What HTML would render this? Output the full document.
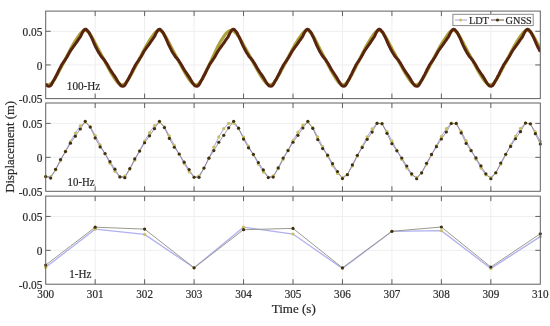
<!DOCTYPE html>
<html><head><meta charset="utf-8"><style>
html,body{margin:0;padding:0;background:#fff;width:550px;height:326px;overflow:hidden}
svg{display:block;will-change:transform;filter:blur(0.45px)}
</style></head><body>
<svg width="550" height="326" viewBox="0 0 550 326">
<defs><clipPath id="c0"><rect x="45.7" y="11.1" width="494.6000000000001" height="87.5"/></clipPath><clipPath id="c1"><rect x="45.7" y="103.0" width="494.6000000000001" height="88.30000000000001"/></clipPath><clipPath id="c2"><rect x="45.7" y="196.1" width="494.6000000000001" height="88.1"/></clipPath></defs>
<rect width="550" height="326" fill="#fff"/>
<line x1="95.16" y1="11.1" x2="95.16" y2="98.6" stroke="#eeeeee" stroke-width="1"/>
<line x1="144.62" y1="11.1" x2="144.62" y2="98.6" stroke="#eeeeee" stroke-width="1"/>
<line x1="194.07999999999998" y1="11.1" x2="194.07999999999998" y2="98.6" stroke="#eeeeee" stroke-width="1"/>
<line x1="243.54000000000002" y1="11.1" x2="243.54000000000002" y2="98.6" stroke="#eeeeee" stroke-width="1"/>
<line x1="293.0" y1="11.1" x2="293.0" y2="98.6" stroke="#eeeeee" stroke-width="1"/>
<line x1="342.46" y1="11.1" x2="342.46" y2="98.6" stroke="#eeeeee" stroke-width="1"/>
<line x1="391.92" y1="11.1" x2="391.92" y2="98.6" stroke="#eeeeee" stroke-width="1"/>
<line x1="441.38" y1="11.1" x2="441.38" y2="98.6" stroke="#eeeeee" stroke-width="1"/>
<line x1="490.84" y1="11.1" x2="490.84" y2="98.6" stroke="#eeeeee" stroke-width="1"/>
<line x1="45.7" y1="64.95" x2="540.3000000000001" y2="64.95" stroke="#eeeeee" stroke-width="1"/>
<line x1="45.7" y1="31.29" x2="540.3000000000001" y2="31.29" stroke="#eeeeee" stroke-width="1"/>
<line x1="95.16" y1="103.0" x2="95.16" y2="191.3" stroke="#eeeeee" stroke-width="1"/>
<line x1="144.62" y1="103.0" x2="144.62" y2="191.3" stroke="#eeeeee" stroke-width="1"/>
<line x1="194.07999999999998" y1="103.0" x2="194.07999999999998" y2="191.3" stroke="#eeeeee" stroke-width="1"/>
<line x1="243.54000000000002" y1="103.0" x2="243.54000000000002" y2="191.3" stroke="#eeeeee" stroke-width="1"/>
<line x1="293.0" y1="103.0" x2="293.0" y2="191.3" stroke="#eeeeee" stroke-width="1"/>
<line x1="342.46" y1="103.0" x2="342.46" y2="191.3" stroke="#eeeeee" stroke-width="1"/>
<line x1="391.92" y1="103.0" x2="391.92" y2="191.3" stroke="#eeeeee" stroke-width="1"/>
<line x1="441.38" y1="103.0" x2="441.38" y2="191.3" stroke="#eeeeee" stroke-width="1"/>
<line x1="490.84" y1="103.0" x2="490.84" y2="191.3" stroke="#eeeeee" stroke-width="1"/>
<line x1="45.7" y1="157.34" x2="540.3000000000001" y2="157.34" stroke="#eeeeee" stroke-width="1"/>
<line x1="45.7" y1="123.38" x2="540.3000000000001" y2="123.38" stroke="#eeeeee" stroke-width="1"/>
<line x1="95.16" y1="196.1" x2="95.16" y2="284.2" stroke="#eeeeee" stroke-width="1"/>
<line x1="144.62" y1="196.1" x2="144.62" y2="284.2" stroke="#eeeeee" stroke-width="1"/>
<line x1="194.07999999999998" y1="196.1" x2="194.07999999999998" y2="284.2" stroke="#eeeeee" stroke-width="1"/>
<line x1="243.54000000000002" y1="196.1" x2="243.54000000000002" y2="284.2" stroke="#eeeeee" stroke-width="1"/>
<line x1="293.0" y1="196.1" x2="293.0" y2="284.2" stroke="#eeeeee" stroke-width="1"/>
<line x1="342.46" y1="196.1" x2="342.46" y2="284.2" stroke="#eeeeee" stroke-width="1"/>
<line x1="391.92" y1="196.1" x2="391.92" y2="284.2" stroke="#eeeeee" stroke-width="1"/>
<line x1="441.38" y1="196.1" x2="441.38" y2="284.2" stroke="#eeeeee" stroke-width="1"/>
<line x1="490.84" y1="196.1" x2="490.84" y2="284.2" stroke="#eeeeee" stroke-width="1"/>
<line x1="45.7" y1="250.32" x2="540.3000000000001" y2="250.32" stroke="#eeeeee" stroke-width="1"/>
<line x1="45.7" y1="216.43" x2="540.3000000000001" y2="216.43" stroke="#eeeeee" stroke-width="1"/>
<g clip-path="url(#c0)">
<path d="M45.70,84.01 L46.19,84.34 L46.69,84.58 L47.18,84.76 L47.68,84.86 L48.17,84.88 L48.67,84.83 L49.16,84.71 L49.66,84.51 L50.15,84.25 L50.65,83.92 L51.14,83.51 L51.64,83.04 L52.13,82.52 L52.62,81.95 L53.12,81.32 L53.61,80.64 L54.11,79.91 L54.60,79.14 L55.10,78.33 L55.59,77.50 L56.09,76.66 L56.58,75.78 L57.08,74.90 L57.57,74.00 L58.07,73.10 L58.56,72.17 L59.05,71.24 L59.55,70.31 L60.04,69.38 L60.54,68.44 L61.03,67.49 L61.53,66.54 L62.02,65.59 L62.52,64.64 L63.01,63.69 L63.51,62.73 L64.00,61.77 L64.49,60.81 L64.99,59.83 L65.48,58.88 L65.98,57.91 L66.47,56.95 L66.97,55.99 L67.46,55.03 L67.96,54.07 L68.45,53.12 L68.95,52.16 L69.44,51.21 L69.94,50.28 L70.43,49.35 L70.92,48.44 L71.42,47.53 L71.91,46.64 L72.41,45.76 L72.90,44.90 L73.40,44.05 L73.89,43.22 L74.39,42.41 L74.88,41.62 L75.38,40.84 L75.87,40.08 L76.37,39.32 L76.86,38.57 L77.35,37.82 L77.85,37.08 L78.34,36.35 L78.84,35.65 L79.33,34.96 L79.83,34.30 L80.32,33.67 L80.82,33.09 L81.31,32.54 L81.81,32.06 L82.30,31.62 L82.80,31.26 L83.29,30.95 L83.78,30.71 L84.28,30.52 L84.77,30.42 L85.27,30.39 L85.76,30.46 L86.26,30.59 L86.75,30.82 L87.25,31.12 L87.74,31.51 L88.24,31.97 L88.73,32.50 L89.22,33.10 L89.72,33.76 L90.21,34.46 L90.71,35.21 L91.20,35.99 L91.70,36.81 L92.19,37.65 L92.69,38.53 L93.18,39.42 L93.68,40.34 L94.17,41.27 L94.67,42.21 L95.16,43.15 L95.65,44.10 L96.15,45.07 L96.64,46.02 L97.14,46.98 L97.63,47.92 L98.13,48.86 L98.62,49.79 L99.12,50.71 L99.61,51.62 L100.11,52.54 L100.60,53.46 L101.10,54.37 L101.59,55.28 L102.08,56.20 L102.58,57.10 L103.07,58.02 L103.57,58.93 L104.06,59.86 L104.56,60.78 L105.05,61.70 L105.55,62.62 L106.04,63.54 L106.54,64.47 L107.03,65.39 L107.53,66.31 L108.02,67.23 L108.51,68.15 L109.01,69.06 L109.50,69.95 L110.00,70.83 L110.49,71.70 L110.99,72.56 L111.48,73.41 L111.98,74.24 L112.47,75.06 L112.97,75.86 L113.46,76.64 L113.95,77.40 L114.45,78.15 L114.94,78.87 L115.44,79.56 L115.93,80.24 L116.43,80.89 L116.92,81.51 L117.42,82.08 L117.91,82.61 L118.41,83.10 L118.90,83.55 L119.40,83.94 L119.89,84.27 L120.38,84.54 L120.88,84.73 L121.37,84.85 L121.87,84.89 L122.36,84.86 L122.86,84.75 L123.35,84.58 L123.85,84.34 L124.34,84.03 L124.84,83.64 L125.33,83.19 L125.83,82.69 L126.32,82.13 L126.81,81.52 L127.31,80.85 L127.80,80.15 L128.30,79.39 L128.79,78.60 L129.29,77.78 L129.78,76.94 L130.28,76.08 L130.77,75.20 L131.27,74.32 L131.76,73.42 L132.25,72.50 L132.75,71.58 L133.24,70.65 L133.74,69.73 L134.23,68.80 L134.73,67.85 L135.22,66.91 L135.72,65.96 L136.21,65.02 L136.71,64.07 L137.20,63.12 L137.70,62.17 L138.19,61.21 L138.68,60.24 L139.18,59.28 L139.67,58.33 L140.17,57.37 L140.66,56.41 L141.16,55.45 L141.65,54.50 L142.15,53.55 L142.64,52.60 L143.14,51.65 L143.63,50.72 L144.13,49.79 L144.62,48.87 L145.11,47.96 L145.61,47.07 L146.10,46.19 L146.60,45.32 L147.09,44.47 L147.59,43.64 L148.08,42.83 L148.58,42.03 L149.07,41.24 L149.57,40.48 L150.06,39.73 L150.56,38.97 L151.05,38.23 L151.54,37.48 L152.04,36.76 L152.53,36.04 L153.03,35.35 L153.52,34.67 L154.02,34.03 L154.51,33.41 L155.01,32.85 L155.50,32.33 L156.00,31.87 L156.49,31.46 L156.99,31.13 L157.48,30.84 L157.97,30.63 L158.47,30.46 L158.96,30.39 L159.46,30.40 L159.95,30.51 L160.45,30.67 L160.94,30.94 L161.44,31.27 L161.93,31.69 L162.43,32.18 L162.92,32.75 L163.41,33.36 L163.91,34.05 L164.40,34.77 L164.90,35.54 L165.39,36.33 L165.89,37.16 L166.38,38.02 L166.88,38.91 L167.37,39.82 L167.87,40.75 L168.36,41.68 L168.86,42.62 L169.35,43.57 L169.84,44.52 L170.34,45.50 L170.83,46.45 L171.33,47.41 L171.82,48.34 L172.32,49.29 L172.81,50.21 L173.31,51.14 L173.80,52.04 L174.30,52.97 L174.79,53.89 L175.29,54.81 L175.78,55.72 L176.27,56.63 L176.77,57.54 L177.26,58.46 L177.76,59.38 L178.25,60.31 L178.75,61.24 L179.24,62.15 L179.74,63.08 L180.23,64.00 L180.73,64.94 L181.22,65.85 L181.72,66.79 L182.21,67.70 L182.70,68.62 L183.20,69.52 L183.69,70.41 L184.19,71.29 L184.68,72.16 L185.18,73.01 L185.67,73.86 L186.17,74.68 L186.66,75.49 L187.16,76.29 L187.65,77.06 L188.14,77.82 L188.64,78.56 L189.13,79.27 L189.63,79.95 L190.12,80.63 L190.62,81.25 L191.11,81.86 L191.61,82.40 L192.10,82.92 L192.60,83.38 L193.09,83.80 L193.59,84.15 L194.08,84.45 L194.57,84.67 L195.07,84.82 L195.56,84.88 L196.06,84.87 L196.55,84.78 L197.05,84.62 L197.54,84.39 L198.04,84.09 L198.53,83.70 L199.03,83.24 L199.52,82.73 L200.02,82.15 L200.51,81.52 L201.00,80.82 L201.50,80.08 L201.99,79.27 L202.49,78.43 L202.98,77.56 L203.48,76.67 L203.97,75.74 L204.47,74.79 L204.96,73.83 L205.46,72.85 L205.95,71.85 L206.44,70.83 L206.94,69.82 L207.43,68.81 L207.93,67.76 L208.42,66.71 L208.92,65.66 L209.41,64.61 L209.91,63.55 L210.40,62.48 L210.90,61.40 L211.39,60.32 L211.89,59.23 L212.38,58.15 L212.87,57.07 L213.37,55.98 L213.86,54.91 L214.36,53.82 L214.85,52.75 L215.35,51.68 L215.84,50.63 L216.34,49.59 L216.83,48.57 L217.33,47.57 L217.82,46.58 L218.32,45.62 L218.81,44.68 L219.30,43.77 L219.80,42.89 L220.29,42.03 L220.79,41.20 L221.28,40.39 L221.78,39.60 L222.27,38.82 L222.77,38.05 L223.26,37.30 L223.76,36.57 L224.25,35.86 L224.75,35.18 L225.24,34.53 L225.73,33.91 L226.23,33.33 L226.72,32.80 L227.22,32.32 L227.71,31.89 L228.21,31.51 L228.70,31.20 L229.20,30.92 L229.69,30.71 L230.19,30.53 L230.68,30.42 L231.18,30.38 L231.67,30.40 L232.16,30.51 L232.66,30.64 L233.15,30.87 L233.65,31.13 L234.14,31.46 L234.64,31.85 L235.13,32.30 L235.63,32.80 L236.12,33.34 L236.62,33.94 L237.11,34.55 L237.60,35.22 L238.10,35.90 L238.59,36.62 L239.09,37.36 L239.58,38.13 L240.08,38.93 L240.57,39.74 L241.07,40.58 L241.56,41.42 L242.06,42.28 L242.55,43.15 L243.05,44.02 L243.54,44.91 L244.03,45.81 L244.53,46.70 L245.02,47.59 L245.52,48.47 L246.01,49.36 L246.51,50.24 L247.00,51.12 L247.50,51.98 L247.99,52.87 L248.49,53.75 L248.98,54.64 L249.48,55.52 L249.97,56.40 L250.46,57.29 L250.96,58.18 L251.45,59.08 L251.95,59.98 L252.44,60.89 L252.94,61.79 L253.43,62.70 L253.93,63.60 L254.42,64.52 L254.92,65.43 L255.41,66.34 L255.91,67.25 L256.40,68.16 L256.89,69.06 L257.39,69.94 L257.88,70.82 L258.38,71.69 L258.87,72.54 L259.37,73.38 L259.86,74.21 L260.36,75.02 L260.85,75.82 L261.35,76.60 L261.84,77.36 L262.33,78.10 L262.83,78.82 L263.32,79.51 L263.82,80.19 L264.31,80.84 L264.81,81.46 L265.30,82.03 L265.80,82.57 L266.29,83.06 L266.79,83.50 L267.28,83.90 L267.78,84.24 L268.27,84.52 L268.76,84.72 L269.26,84.85 L269.75,84.90 L270.25,84.87 L270.74,84.78 L271.24,84.61 L271.73,84.38 L272.23,84.09 L272.72,83.71 L273.22,83.26 L273.71,82.78 L274.21,82.22 L274.70,81.63 L275.19,80.97 L275.69,80.28 L276.18,79.53 L276.68,78.75 L277.17,77.93 L277.67,77.11 L278.16,76.26 L278.66,75.38 L279.15,74.50 L279.65,73.61 L280.14,72.70 L280.63,71.78 L281.13,70.85 L281.62,69.93 L282.12,69.02 L282.61,68.08 L283.11,67.13 L283.60,66.19 L284.10,65.25 L284.59,64.31 L285.09,63.36 L285.58,62.41 L286.08,61.46 L286.57,60.50 L287.06,59.54 L287.56,58.59 L288.05,57.63 L288.55,56.69 L289.04,55.72 L289.54,54.78 L290.03,53.82 L290.53,52.88 L291.02,51.93 L291.52,51.00 L292.01,50.08 L292.51,49.16 L293.00,48.25 L293.49,47.36 L293.99,46.47 L294.48,45.61 L294.98,44.76 L295.47,43.92 L295.97,43.10 L296.46,42.30 L296.96,41.52 L297.45,40.75 L297.95,40.00 L298.44,39.24 L298.94,38.50 L299.43,37.76 L299.92,37.03 L300.42,36.31 L300.91,35.61 L301.41,34.93 L301.90,34.28 L302.40,33.65 L302.89,33.07 L303.39,32.53 L303.88,32.05 L304.38,31.62 L304.87,31.26 L305.37,30.95 L305.86,30.72 L306.35,30.53 L306.85,30.43 L307.34,30.41 L307.84,30.49 L308.33,30.64 L308.83,30.89 L309.32,31.20 L309.82,31.61 L310.31,32.09 L310.81,32.66 L311.30,33.27 L311.79,33.97 L312.29,34.69 L312.78,35.48 L313.28,36.29 L313.77,37.14 L314.27,38.02 L314.76,38.94 L315.26,39.86 L315.75,40.82 L316.25,41.78 L316.74,42.74 L317.24,43.72 L317.73,44.71 L318.22,45.70 L318.72,46.69 L319.21,47.66 L319.71,48.63 L320.20,49.60 L320.70,50.55 L321.19,51.49 L321.69,52.44 L322.18,53.39 L322.68,54.33 L323.17,55.28 L323.67,56.22 L324.16,57.17 L324.65,58.11 L325.15,59.06 L325.64,60.01 L326.14,60.97 L326.63,61.91 L327.13,62.87 L327.62,63.81 L328.12,64.77 L328.61,65.72 L329.11,66.67 L329.60,67.61 L330.09,68.56 L330.59,69.48 L331.08,70.40 L331.58,71.30 L332.07,72.19 L332.57,73.07 L333.06,73.94 L333.56,74.79 L334.05,75.62 L334.55,76.44 L335.04,77.23 L335.54,78.00 L336.03,78.75 L336.52,79.47 L337.02,80.18 L337.51,80.84 L338.01,81.48 L338.50,82.06 L339.00,82.61 L339.49,83.10 L339.99,83.56 L340.48,83.95 L340.98,84.28 L341.47,84.53 L341.97,84.72 L342.46,84.82 L342.95,84.84 L343.45,84.78 L343.94,84.65 L344.44,84.45 L344.93,84.18 L345.43,83.83 L345.92,83.39 L346.42,82.91 L346.91,82.36 L347.41,81.77 L347.90,81.10 L348.40,80.40 L348.89,79.63 L349.38,78.83 L349.88,77.99 L350.37,77.14 L350.87,76.25 L351.36,75.36 L351.86,74.44 L352.35,73.52 L352.85,72.57 L353.34,71.63 L353.84,70.67 L354.33,69.72 L354.82,68.76 L355.32,67.78 L355.81,66.81 L356.31,65.83 L356.80,64.86 L357.30,63.87 L357.79,62.89 L358.29,61.90 L358.78,60.91 L359.28,59.91 L359.77,58.92 L360.27,57.93 L360.76,56.95 L361.25,55.96 L361.75,54.98 L362.24,53.99 L362.74,53.01 L363.23,52.03 L363.73,51.06 L364.22,50.11 L364.72,49.16 L365.21,48.22 L365.71,47.29 L366.20,46.38 L366.70,45.48 L367.19,44.60 L367.68,43.74 L368.18,42.89 L368.67,42.07 L369.17,41.26 L369.66,40.47 L370.16,39.68 L370.65,38.90 L371.15,38.13 L371.64,37.37 L372.14,36.62 L372.63,35.89 L373.13,35.17 L373.62,34.49 L374.11,33.84 L374.61,33.23 L375.10,32.67 L375.60,32.16 L376.09,31.72 L376.59,31.34 L377.08,31.01 L377.58,30.76 L378.07,30.56 L378.57,30.44 L379.06,30.40 L379.56,30.46 L380.05,30.59 L380.54,30.81 L381.04,31.11 L381.53,31.48 L382.03,31.94 L382.52,32.47 L383.02,33.05 L383.51,33.71 L384.01,34.40 L384.50,35.15 L385.00,35.92 L385.49,36.73 L385.98,37.57 L386.48,38.44 L386.97,39.33 L387.47,40.24 L387.96,41.16 L388.46,42.09 L388.95,43.03 L389.45,43.98 L389.94,44.93 L390.44,45.89 L390.93,46.84 L391.43,47.78 L391.92,48.71 L392.41,49.64 L392.91,50.56 L393.40,51.47 L393.90,52.38 L394.39,53.29 L394.89,54.20 L395.38,55.11 L395.88,56.01 L396.37,56.92 L396.87,57.82 L397.36,58.73 L397.86,59.65 L398.35,60.57 L398.84,61.48 L399.34,62.39 L399.83,63.31 L400.33,64.23 L400.82,65.15 L401.32,66.07 L401.81,66.99 L402.31,67.90 L402.80,68.81 L403.30,69.70 L403.79,70.58 L404.28,71.45 L404.78,72.31 L405.27,73.15 L405.77,73.98 L406.26,74.80 L406.76,75.60 L407.25,76.39 L407.75,77.15 L408.24,77.90 L408.74,78.62 L409.23,79.33 L409.73,80.00 L410.22,80.67 L410.71,81.29 L411.21,81.88 L411.70,82.42 L412.20,82.93 L412.69,83.38 L413.19,83.80 L413.68,84.15 L414.18,84.45 L414.67,84.67 L415.17,84.82 L415.66,84.89 L416.16,84.89 L416.65,84.81 L417.14,84.67 L417.64,84.45 L418.13,84.18 L418.63,83.83 L419.12,83.40 L419.62,82.93 L420.11,82.39 L420.61,81.82 L421.10,81.18 L421.60,80.50 L422.09,79.76 L422.59,78.99 L423.08,78.18 L423.57,77.37 L424.07,76.52 L424.56,75.66 L425.06,74.78 L425.55,73.89 L426.05,72.99 L426.54,72.07 L427.04,71.15 L427.53,70.23 L428.03,69.31 L428.52,68.38 L429.01,67.44 L429.51,66.50 L430.00,65.56 L430.50,64.61 L430.99,63.68 L431.49,62.73 L431.98,61.78 L432.48,60.82 L432.97,59.86 L433.47,58.91 L433.96,57.96 L434.46,57.01 L434.95,56.05 L435.44,55.11 L435.94,54.16 L436.43,53.21 L436.93,52.26 L437.42,51.32 L437.92,50.40 L438.41,49.48 L438.91,48.57 L439.40,47.67 L439.90,46.78 L440.39,45.91 L440.89,45.06 L441.38,44.22 L441.87,43.40 L442.37,42.59 L442.86,41.80 L443.36,41.03 L443.85,40.27 L444.35,39.52 L444.84,38.77 L445.34,38.03 L445.83,37.30 L446.33,36.58 L446.82,35.87 L447.32,35.18 L447.81,34.51 L448.30,33.88 L448.80,33.28 L449.29,32.73 L449.79,32.22 L450.28,31.78 L450.78,31.38 L451.27,31.06 L451.77,30.79 L452.26,30.58 L452.76,30.44 L453.25,30.38 L453.75,30.41 L454.24,30.52 L454.73,30.71 L455.23,30.99 L455.72,31.33 L456.22,31.77 L456.71,32.26 L457.21,32.84 L457.70,33.47 L458.20,34.16 L458.69,34.89 L459.19,35.66 L459.68,36.46 L460.17,37.29 L460.67,38.15 L461.16,39.05 L461.66,39.96 L462.15,40.89 L462.65,41.82 L463.14,42.76 L463.64,43.71 L464.13,44.67 L464.63,45.64 L465.12,46.59 L465.62,47.54 L466.11,48.48 L466.60,49.42 L467.10,50.34 L467.59,51.26 L468.09,52.17 L468.58,53.09 L469.08,54.01 L469.57,54.92 L470.07,55.84 L470.56,56.75 L471.06,57.66 L471.55,58.58 L472.05,59.50 L472.54,60.42 L473.03,61.35 L473.53,62.26 L474.02,63.19 L474.52,64.11 L475.01,65.04 L475.51,65.96 L476.00,66.89 L476.50,67.80 L476.99,68.72 L477.49,69.61 L477.98,70.50 L478.48,71.38 L478.97,72.25 L479.46,73.10 L479.96,73.94 L480.45,74.76 L480.95,75.57 L481.44,76.36 L481.94,77.13 L482.43,77.88 L482.93,78.61 L483.42,79.32 L483.92,80.00 L484.41,80.67 L484.90,81.29 L485.40,81.89 L485.89,82.43 L486.39,82.94 L486.88,83.39 L487.38,83.81 L487.87,84.16 L488.37,84.45 L488.86,84.67 L489.36,84.82 L489.85,84.88 L490.35,84.88 L490.84,84.79 L491.33,84.64 L491.83,84.42 L492.32,84.14 L492.82,83.78 L493.31,83.34 L493.81,82.86 L494.30,82.31 L494.80,81.73 L495.29,81.07 L495.79,80.38 L496.28,79.63 L496.78,78.86 L497.27,78.03 L497.76,77.21 L498.26,76.36 L498.75,75.48 L499.25,74.60 L499.74,73.70 L500.24,72.79 L500.73,71.86 L501.23,70.93 L501.72,70.01 L502.22,69.09 L502.71,68.14 L503.20,67.20 L503.70,66.25 L504.19,65.30 L504.69,64.35 L505.18,63.40 L505.68,62.45 L506.17,61.49 L506.67,60.53 L507.16,59.56 L507.66,58.61 L508.15,57.64 L508.65,56.69 L509.14,55.72 L509.63,54.78 L510.13,53.81 L510.62,52.87 L511.12,51.91 L511.61,50.98 L512.11,50.05 L512.60,49.13 L513.10,48.21 L513.59,47.31 L514.09,46.43 L514.58,45.56 L515.08,44.70 L515.57,43.86 L516.06,43.04 L516.56,42.24 L517.05,41.45 L517.55,40.68 L518.04,39.92 L518.54,39.16 L519.03,38.42 L519.53,37.67 L520.02,36.94 L520.52,36.22 L521.01,35.52 L521.51,34.83 L522.00,34.19 L522.49,33.56 L522.99,32.99 L523.48,32.45 L523.98,31.98 L524.47,31.56 L524.97,31.21 L525.46,30.90 L525.96,30.68 L526.45,30.50 L526.95,30.41 L527.44,30.39 L527.94,30.48 L528.43,30.63 L528.92,30.88 L529.42,31.19 L529.91,31.59 L530.41,32.06 L530.90,32.62 L531.40,33.22 L531.89,33.90 L532.39,34.61 L532.88,35.38 L533.38,36.16 L533.87,36.99 L534.36,37.84 L534.86,38.73 L535.35,39.63 L535.85,40.56 L536.34,41.49 L536.84,42.43 L537.33,43.38 L537.83,44.34 L538.32,45.31 L538.82,46.27 L539.31,47.23 L539.81,48.17 L540.30,49.12" fill="none" stroke="#aca23c" stroke-width="3.2" stroke-linejoin="round"/>
<path d="M45.70,83.97 L46.19,84.52 L46.69,85.25 L47.18,85.77 L47.68,86.01 L48.17,86.10 L48.67,86.16 L49.16,86.19 L49.66,86.11 L50.15,85.90 L50.65,85.51 L51.14,84.94 L51.64,84.18 L52.13,83.29 L52.62,82.33 L53.12,81.38 L53.61,80.51 L54.11,79.72 L54.60,78.91 L55.10,77.97 L55.59,76.81 L56.09,75.87 L56.58,75.01 L57.08,74.05 L57.57,73.04 L58.07,71.98 L58.56,70.92 L59.05,69.88 L59.55,68.89 L60.04,67.98 L60.54,67.18 L61.03,66.09 L61.53,65.08 L62.02,64.27 L62.52,63.55 L63.01,62.82 L63.51,62.07 L64.00,61.45 L64.49,60.85 L64.99,60.15 L65.48,59.22 L65.98,58.44 L66.47,57.74 L66.97,56.96 L67.46,56.12 L67.96,55.24 L68.45,54.35 L68.95,53.45 L69.44,52.56 L69.94,51.70 L70.43,50.90 L70.92,50.14 L71.42,49.41 L71.91,48.71 L72.41,48.01 L72.90,47.33 L73.40,46.66 L73.89,45.98 L74.39,45.31 L74.88,44.63 L75.38,43.94 L75.87,43.24 L76.37,42.52 L76.86,41.79 L77.35,41.06 L77.85,40.34 L78.34,39.61 L78.84,38.90 L79.33,38.20 L79.83,37.51 L80.32,36.85 L80.82,35.89 L81.31,34.81 L81.81,33.76 L82.30,32.77 L82.80,31.88 L83.29,31.13 L83.78,30.36 L84.28,29.79 L84.77,29.44 L85.27,29.29 L85.76,29.29 L86.26,29.46 L86.75,29.83 L87.25,30.41 L87.74,30.99 L88.24,31.54 L88.73,32.18 L89.22,32.93 L89.72,33.84 L90.21,34.95 L90.71,35.90 L91.20,36.82 L91.70,37.84 L92.19,38.93 L92.69,40.08 L93.18,41.25 L93.68,42.43 L94.17,43.59 L94.67,44.71 L95.16,45.75 L95.65,46.73 L96.15,47.71 L96.64,48.69 L97.14,49.66 L97.63,50.60 L98.13,51.51 L98.62,52.37 L99.12,53.18 L99.61,53.93 L100.11,54.61 L100.60,55.51 L101.10,56.33 L101.59,56.92 L102.08,57.42 L102.58,57.96 L103.07,58.58 L103.57,59.12 L104.06,59.65 L104.56,60.28 L105.05,61.12 L105.55,61.92 L106.04,62.59 L106.54,63.33 L107.03,64.13 L107.53,64.97 L108.02,65.85 L108.51,66.73 L109.01,67.61 L109.50,68.47 L110.00,69.29 L110.49,70.06 L110.99,70.82 L111.48,71.56 L111.98,72.30 L112.47,73.03 L112.97,73.76 L113.46,74.48 L113.95,75.21 L114.45,75.94 L114.94,76.68 L115.44,77.43 L115.93,78.23 L116.43,79.07 L116.92,79.93 L117.42,80.78 L117.91,81.62 L118.41,82.42 L118.90,83.16 L119.40,83.83 L119.89,84.40 L120.38,85.07 L120.88,85.67 L121.37,85.97 L121.87,86.09 L122.36,86.14 L122.86,86.19 L123.35,86.14 L123.85,85.97 L124.34,85.63 L124.84,85.12 L125.33,84.41 L125.83,83.56 L126.32,82.62 L126.81,81.66 L127.31,80.77 L127.80,79.96 L128.30,79.17 L128.79,78.29 L129.29,77.21 L129.78,76.12 L130.28,75.31 L130.77,74.39 L131.27,73.39 L131.76,72.35 L132.25,71.29 L132.75,70.24 L133.24,69.24 L133.74,68.30 L134.23,67.46 L134.73,66.54 L135.22,65.43 L135.72,64.56 L136.21,63.83 L136.71,63.12 L137.20,62.36 L137.70,61.69 L138.19,61.10 L138.68,60.46 L139.18,59.65 L139.67,58.72 L140.17,58.05 L140.66,57.30 L141.16,56.49 L141.65,55.64 L142.15,54.75 L142.64,53.85 L143.14,52.96 L143.63,52.10 L144.13,51.27 L144.62,50.50 L145.11,49.76 L145.61,49.05 L146.10,48.35 L146.60,47.67 L147.09,46.99 L147.59,46.32 L148.08,45.65 L148.58,44.98 L149.07,44.30 L149.57,43.60 L150.06,42.90 L150.56,42.18 L151.05,41.46 L151.54,40.73 L152.04,40.01 L152.53,39.29 L153.03,38.58 L153.52,37.89 L154.02,37.22 L154.51,36.51 L155.01,35.43 L155.50,34.36 L156.00,33.33 L156.49,32.39 L156.99,31.55 L157.48,30.84 L157.97,30.10 L158.47,29.63 L158.96,29.36 L159.46,29.27 L159.95,29.33 L160.45,29.59 L160.94,30.04 L161.44,30.68 L161.93,31.20 L162.43,31.78 L162.92,32.46 L163.41,33.28 L163.91,34.27 L164.40,35.41 L164.90,36.26 L165.39,37.23 L165.89,38.29 L166.38,39.41 L166.88,40.58 L167.37,41.76 L167.87,42.94 L168.36,44.08 L168.86,45.17 L169.35,46.19 L169.84,47.17 L170.34,48.15 L170.83,49.13 L171.33,50.08 L171.82,51.01 L172.32,51.90 L172.81,52.75 L173.31,53.54 L173.80,54.25 L174.30,54.94 L174.79,55.93 L175.29,56.63 L175.78,57.16 L176.27,57.66 L176.77,58.26 L177.26,58.85 L177.76,59.37 L178.25,59.93 L178.75,60.66 L179.24,61.62 L179.74,62.24 L180.23,62.95 L180.73,63.72 L181.22,64.55 L181.72,65.41 L182.21,66.30 L182.70,67.18 L183.20,68.05 L183.69,68.90 L184.19,69.69 L184.68,70.46 L185.18,71.21 L185.67,71.95 L186.17,72.69 L186.66,73.42 L187.16,74.15 L187.65,74.87 L188.14,75.60 L188.64,76.34 L189.13,77.09 L189.63,77.87 L190.12,78.69 L190.62,79.55 L191.11,80.41 L191.61,81.26 L192.10,82.08 L192.60,82.85 L193.09,83.55 L193.59,84.16 L194.08,84.69 L194.57,85.46 L195.07,85.88 L195.56,86.05 L196.06,86.12 L196.55,86.18 L197.05,86.18 L197.54,86.06 L198.04,85.79 L198.53,85.34 L199.03,84.72 L199.52,83.91 L200.02,82.99 L200.51,82.03 L201.00,81.10 L201.50,80.27 L201.99,79.48 L202.49,78.64 L202.98,77.65 L203.48,76.40 L203.97,75.62 L204.47,74.74 L204.96,73.76 L205.46,72.73 L205.95,71.67 L206.44,70.62 L206.94,69.59 L207.43,68.62 L207.93,67.74 L208.42,66.98 L208.92,65.78 L209.41,64.84 L209.91,64.07 L210.40,63.36 L210.90,62.61 L211.39,61.90 L211.89,61.30 L212.38,60.68 L212.87,59.94 L213.37,58.93 L213.86,58.27 L214.36,57.55 L214.85,56.75 L215.35,55.90 L215.84,55.02 L216.34,54.13 L216.83,53.23 L217.33,52.35 L217.82,51.51 L218.32,50.72 L218.81,49.97 L219.30,49.25 L219.80,48.55 L220.29,47.86 L220.79,47.18 L221.28,46.51 L221.78,45.84 L222.27,45.16 L222.77,44.48 L223.26,43.79 L223.76,43.08 L224.25,42.37 L224.75,41.64 L225.24,40.91 L225.73,40.19 L226.23,39.47 L226.72,38.76 L227.22,38.06 L227.71,37.38 L228.21,36.73 L228.70,35.69 L229.20,34.61 L229.69,33.57 L230.19,32.59 L230.68,31.73 L231.18,31.01 L231.67,30.24 L232.16,29.71 L232.66,29.40 L233.15,29.28 L233.65,29.31 L234.14,29.51 L234.64,29.91 L235.13,30.53 L235.63,31.07 L236.12,31.63 L236.62,32.28 L237.11,33.05 L237.60,33.98 L238.10,35.11 L238.59,36.01 L239.09,36.94 L239.58,37.96 L240.08,39.06 L240.57,40.21 L241.07,41.38 L241.56,42.55 L242.06,43.71 L242.55,44.81 L243.05,45.85 L243.54,46.82 L244.03,47.80 L244.53,48.77 L245.02,49.73 L245.52,50.66 L246.01,51.57 L246.51,52.42 L247.00,53.23 L247.50,53.97 L247.99,54.64 L248.49,55.56 L248.98,56.36 L249.48,56.94 L249.97,57.44 L250.46,57.98 L250.96,58.60 L251.45,59.13 L251.95,59.66 L252.44,60.29 L252.94,61.13 L253.43,61.92 L253.93,62.59 L254.42,63.33 L254.92,64.13 L255.41,64.97 L255.91,65.83 L256.40,66.71 L256.89,67.59 L257.39,68.44 L257.88,69.26 L258.38,70.04 L258.87,70.79 L259.37,71.53 L259.86,72.27 L260.36,72.99 L260.85,73.72 L261.35,74.44 L261.84,75.16 L262.33,75.89 L262.83,76.63 L263.32,77.37 L263.82,78.17 L264.31,79.00 L264.81,79.85 L265.30,80.71 L265.80,81.54 L266.29,82.34 L266.79,83.09 L267.28,83.76 L267.78,84.34 L268.27,84.97 L268.76,85.62 L269.26,85.95 L269.75,86.08 L270.25,86.13 L270.74,86.19 L271.24,86.16 L271.73,86.00 L272.23,85.69 L272.72,85.20 L273.22,84.53 L273.71,83.70 L274.21,82.77 L274.70,81.82 L275.19,80.91 L275.69,80.10 L276.18,79.32 L276.68,78.46 L277.17,77.43 L277.67,76.26 L278.16,75.47 L278.66,74.58 L279.15,73.60 L279.65,72.57 L280.14,71.51 L280.63,70.47 L281.13,69.45 L281.62,68.50 L282.12,67.64 L282.61,66.84 L283.11,65.67 L283.60,64.76 L284.10,64.00 L284.59,63.30 L285.09,62.55 L285.58,61.85 L286.08,61.26 L286.57,60.64 L287.06,59.89 L287.56,58.88 L288.05,58.24 L288.55,57.52 L289.04,56.73 L289.54,55.89 L290.03,55.01 L290.53,54.12 L291.02,53.23 L291.52,52.36 L292.01,51.52 L292.51,50.73 L293.00,49.99 L293.49,49.27 L293.99,48.57 L294.48,47.89 L294.98,47.21 L295.47,46.55 L295.97,45.88 L296.46,45.21 L296.96,44.54 L297.45,43.85 L297.95,43.15 L298.44,42.44 L298.94,41.72 L299.43,41.00 L299.92,40.27 L300.42,39.56 L300.91,38.85 L301.41,38.16 L301.90,37.48 L302.40,36.83 L302.89,35.86 L303.39,34.79 L303.88,33.74 L304.38,32.76 L304.87,31.88 L305.37,31.14 L305.86,30.38 L306.35,29.80 L306.85,29.45 L307.34,29.29 L307.84,29.29 L308.33,29.47 L308.83,29.85 L309.32,30.46 L309.82,31.04 L310.31,31.62 L310.81,32.29 L311.30,33.10 L311.79,34.08 L312.29,35.27 L312.78,36.15 L313.28,37.14 L313.77,38.22 L314.27,39.37 L314.76,40.57 L315.26,41.79 L315.75,43.00 L316.25,44.18 L316.74,45.29 L317.24,46.33 L317.73,47.34 L318.22,48.35 L318.72,49.35 L319.21,50.33 L319.71,51.27 L320.20,52.18 L320.70,53.03 L321.19,53.81 L321.69,54.52 L322.18,55.41 L322.68,56.28 L323.17,56.90 L323.67,57.42 L324.16,57.97 L324.65,58.62 L325.15,59.17 L325.64,59.72 L326.14,60.39 L326.63,61.32 L327.13,62.06 L327.62,62.77 L328.12,63.55 L328.61,64.40 L329.11,65.28 L329.60,66.18 L330.09,67.10 L330.59,67.99 L331.08,68.86 L331.58,69.69 L332.07,70.47 L332.57,71.25 L333.06,72.01 L333.56,72.77 L334.05,73.52 L334.55,74.27 L335.04,75.02 L335.54,75.77 L336.03,76.53 L336.52,77.30 L337.02,78.12 L337.51,78.98 L338.01,79.87 L338.50,80.75 L339.00,81.61 L339.49,82.44 L339.99,83.20 L340.48,83.88 L340.98,84.46 L341.47,85.19 L341.97,85.75 L342.46,86.01 L342.95,86.10 L343.45,86.16 L343.94,86.19 L344.44,86.10 L344.93,85.86 L345.43,85.44 L345.92,84.83 L346.42,84.02 L346.91,83.09 L347.41,82.10 L347.90,81.14 L348.40,80.28 L348.89,79.47 L349.38,78.60 L349.88,77.56 L350.37,76.32 L350.87,75.51 L351.36,74.58 L351.86,73.57 L352.35,72.50 L352.85,71.41 L353.34,70.32 L353.84,69.28 L354.33,68.31 L354.82,67.45 L355.32,66.47 L355.81,65.35 L356.31,64.47 L356.80,63.72 L357.30,62.99 L357.79,62.20 L358.29,61.55 L358.78,60.94 L359.28,60.24 L359.77,59.31 L360.27,58.48 L360.76,57.76 L361.25,56.96 L361.75,56.10 L362.24,55.20 L362.74,54.27 L363.23,53.35 L363.73,52.44 L364.22,51.57 L364.72,50.75 L365.21,49.98 L365.71,49.24 L366.20,48.52 L366.70,47.81 L367.19,47.11 L367.68,46.42 L368.18,45.73 L368.67,45.03 L369.17,44.33 L369.66,43.62 L370.16,42.89 L370.65,42.15 L371.15,41.40 L371.64,40.65 L372.14,39.90 L372.63,39.16 L373.13,38.44 L373.62,37.73 L374.11,37.04 L374.61,36.18 L375.10,35.07 L375.60,33.98 L376.09,32.94 L376.59,32.01 L377.08,31.22 L377.58,30.44 L378.07,29.82 L378.57,29.46 L379.06,29.29 L379.56,29.29 L380.05,29.46 L380.54,29.82 L381.04,30.39 L381.53,30.97 L382.03,31.51 L382.52,32.14 L383.02,32.88 L383.51,33.78 L384.01,34.86 L384.50,35.83 L385.00,36.74 L385.49,37.75 L385.98,38.83 L386.48,39.97 L386.97,41.14 L387.47,42.31 L387.96,43.47 L388.46,44.58 L388.95,45.63 L389.45,46.61 L389.94,47.59 L390.44,48.56 L390.93,49.52 L391.43,50.46 L391.92,51.37 L392.41,52.24 L392.91,53.05 L393.40,53.81 L393.90,54.49 L394.39,55.33 L394.89,56.20 L395.38,56.82 L395.88,57.33 L396.37,57.84 L396.87,58.46 L397.36,59.01 L397.86,59.53 L398.35,60.12 L398.84,60.90 L399.34,61.78 L399.83,62.42 L400.33,63.14 L400.82,63.92 L401.32,64.76 L401.81,65.62 L402.31,66.49 L402.80,67.37 L403.30,68.23 L403.79,69.06 L404.28,69.84 L404.78,70.60 L405.27,71.34 L405.77,72.08 L406.26,72.80 L406.76,73.53 L407.25,74.25 L407.75,74.97 L408.24,75.70 L408.74,76.43 L409.23,77.17 L409.73,77.95 L410.22,78.77 L410.71,79.62 L411.21,80.47 L411.70,81.31 L412.20,82.12 L412.69,82.89 L413.19,83.58 L413.68,84.19 L414.18,84.72 L414.67,85.47 L415.17,85.88 L415.66,86.05 L416.16,86.12 L416.65,86.18 L417.14,86.18 L417.64,86.06 L418.13,85.80 L418.63,85.36 L419.12,84.75 L419.62,83.96 L420.11,83.06 L420.61,82.11 L421.10,81.18 L421.60,80.34 L422.09,79.56 L422.59,78.74 L423.08,77.77 L423.57,76.57 L424.07,75.73 L424.56,74.87 L425.06,73.91 L425.55,72.89 L426.05,71.85 L426.54,70.80 L427.04,69.77 L427.53,68.80 L428.03,67.91 L428.52,67.13 L429.01,66.01 L429.51,65.03 L430.00,64.24 L430.50,63.53 L430.99,62.81 L431.49,62.06 L431.98,61.45 L432.48,60.86 L432.97,60.16 L433.47,59.25 L433.96,58.47 L434.46,57.77 L434.95,57.00 L435.44,56.18 L435.94,55.31 L436.43,54.43 L436.93,53.54 L437.42,52.66 L437.92,51.80 L438.41,51.00 L438.91,50.25 L439.40,49.52 L439.90,48.82 L440.39,48.13 L440.89,47.45 L441.38,46.78 L441.87,46.12 L442.37,45.45 L442.86,44.78 L443.36,44.10 L443.85,43.41 L444.35,42.70 L444.84,41.98 L445.34,41.26 L445.83,40.54 L446.33,39.82 L446.82,39.11 L447.32,38.41 L447.81,37.73 L448.30,37.07 L448.80,36.26 L449.29,35.19 L449.79,34.13 L450.28,33.12 L450.78,32.20 L451.27,31.40 L451.77,30.67 L452.26,29.99 L452.76,29.56 L453.25,29.34 L453.75,29.27 L454.24,29.36 L454.73,29.65 L455.23,30.14 L455.72,30.76 L456.22,31.29 L456.71,31.89 L457.21,32.59 L457.70,33.43 L458.20,34.45 L458.69,35.54 L459.19,36.41 L459.68,37.39 L460.17,38.46 L460.67,39.59 L461.16,40.76 L461.66,41.94 L462.15,43.11 L462.65,44.25 L463.14,45.33 L463.64,46.33 L464.13,47.31 L464.63,48.29 L465.12,49.26 L465.62,50.22 L466.11,51.14 L466.60,52.03 L467.10,52.86 L467.59,53.64 L468.09,54.35 L468.58,55.09 L469.08,56.04 L469.57,56.70 L470.07,57.23 L470.56,57.73 L471.06,58.34 L471.55,58.92 L472.05,59.44 L472.54,60.01 L473.03,60.76 L473.53,61.69 L474.02,62.32 L474.52,63.04 L475.01,63.82 L475.51,64.65 L476.00,65.51 L476.50,66.40 L476.99,67.28 L477.49,68.15 L477.98,68.99 L478.48,69.78 L478.97,70.54 L479.46,71.29 L479.96,72.03 L480.45,72.76 L480.95,73.49 L481.44,74.22 L481.94,74.94 L482.43,75.68 L482.93,76.41 L483.42,77.16 L483.92,77.94 L484.41,78.77 L484.90,79.62 L485.40,80.48 L485.89,81.33 L486.39,82.14 L486.88,82.91 L487.38,83.60 L487.87,84.21 L488.37,84.76 L488.86,85.51 L489.36,85.90 L489.85,86.06 L490.35,86.12 L490.84,86.18 L491.33,86.17 L491.83,86.05 L492.32,85.77 L492.82,85.30 L493.31,84.67 L493.81,83.85 L494.30,82.93 L494.80,81.97 L495.29,81.05 L495.79,80.22 L496.28,79.43 L496.78,78.59 L497.27,77.59 L497.76,76.36 L498.26,75.58 L498.75,74.69 L499.25,73.71 L499.74,72.68 L500.24,71.62 L500.73,70.57 L501.23,69.54 L501.72,68.58 L502.22,67.71 L502.71,66.94 L503.20,65.74 L503.70,64.81 L504.19,64.04 L504.69,63.34 L505.18,62.59 L505.68,61.88 L506.17,61.28 L506.67,60.66 L507.16,59.91 L507.66,58.90 L508.15,58.25 L508.65,57.53 L509.14,56.73 L509.63,55.88 L510.13,55.01 L510.62,54.11 L511.12,53.21 L511.61,52.34 L512.11,51.49 L512.60,50.71 L513.10,49.96 L513.59,49.24 L514.09,48.54 L514.58,47.85 L515.08,47.17 L515.57,46.50 L516.06,45.83 L516.56,45.16 L517.05,44.48 L517.55,43.79 L518.04,43.09 L518.54,42.37 L519.03,41.64 L519.53,40.92 L520.02,40.19 L520.52,39.47 L521.01,38.76 L521.51,38.07 L522.00,37.39 L522.49,36.74 L522.99,35.70 L523.48,34.63 L523.98,33.58 L524.47,32.61 L524.97,31.74 L525.46,31.02 L525.96,30.25 L526.45,29.72 L526.95,29.41 L527.44,29.28 L527.94,29.30 L528.43,29.51 L528.92,29.91 L529.42,30.53 L529.91,31.08 L530.41,31.64 L530.90,32.30 L531.40,33.09 L531.89,34.04 L532.39,35.19 L532.88,36.07 L533.38,37.02 L533.87,38.06 L534.36,39.17 L534.86,40.33 L535.35,41.52 L535.85,42.70 L536.34,43.86 L536.84,44.96 L537.33,45.99 L537.83,46.98 L538.32,47.96 L538.82,48.94 L539.31,49.90 L539.81,50.84 L540.30,51.74" fill="none" stroke="#58240e" stroke-width="3.0" stroke-linejoin="round"/>
</g>
<path d="M45.70,176.58 L50.65,176.49 L55.59,170.01 L60.54,160.87 L65.48,151.21 L70.43,141.60 L75.38,133.01 L80.32,125.78 L85.27,122.46 L90.21,126.57 L95.16,135.34 L100.11,144.82 L105.05,154.06 L110.00,163.28 L114.94,171.39 L119.89,176.84 L124.84,176.20 L129.78,169.45 L134.73,160.27 L139.67,150.66 L144.62,141.12 L149.57,132.65 L154.51,125.52 L159.46,122.48 L164.40,126.88 L169.35,135.77 L174.30,145.25 L179.24,154.52 L184.19,163.74 L189.13,171.79 L194.08,177.02 L199.03,175.80 L203.97,168.23 L208.92,158.06 L213.86,147.21 L218.81,136.89 L223.76,128.70 L228.70,123.28 L233.65,123.21 L238.59,128.75 L243.54,137.12 L248.49,146.04 L253.43,155.07 L258.38,164.14 L263.32,172.04 L268.27,177.09 L273.22,175.82 L278.16,168.75 L283.11,159.54 L288.05,149.96 L293.00,140.49 L297.95,132.16 L302.89,125.17 L307.84,122.57 L312.78,127.61 L317.73,136.92 L322.68,146.63 L327.62,156.19 L332.57,165.54 L337.51,173.38 L342.46,177.39 L347.41,174.31 L352.35,165.99 L357.30,156.25 L362.24,146.29 L367.19,136.81 L372.14,128.75 L377.08,123.10 L382.03,124.03 L386.97,131.49 L391.92,140.96 L396.87,150.15 L401.81,159.40 L406.76,168.09 L411.70,174.97 L416.65,177.38 L421.60,173.03 L426.54,164.53 L431.49,155.10 L436.43,145.49 L441.38,136.42 L446.33,128.71 L451.27,123.14 L456.22,123.85 L461.16,131.20 L466.11,140.72 L471.06,149.99 L476.00,159.30 L480.95,168.06 L485.89,174.98 L490.84,177.36 L495.79,172.92 L500.73,164.32 L505.68,154.82 L510.62,145.15 L515.57,136.06 L520.52,128.35 L525.46,122.98 L530.41,124.15 L535.35,131.79 L540.30,141.36" fill="none" stroke="#a8a0e0" stroke-width="1"/>
<path d="M45.70,176.53 L50.65,178.09 L55.59,169.31 L60.54,159.59 L65.48,151.56 L70.43,143.16 L75.38,136.14 L80.32,128.99 L85.27,121.36 L90.21,127.06 L95.16,137.97 L100.11,146.91 L105.05,153.48 L110.00,161.72 L114.94,169.18 L119.89,176.97 L124.84,177.69 L129.78,168.62 L134.73,158.95 L139.67,151.05 L144.62,142.76 L149.57,135.80 L154.51,128.64 L159.46,121.34 L164.40,127.53 L169.35,138.41 L174.30,147.24 L179.24,153.98 L184.19,162.13 L189.13,169.59 L194.08,177.26 L199.03,177.29 L203.97,168.11 L208.92,158.18 L213.86,150.60 L218.81,142.23 L223.76,135.28 L228.70,127.81 L233.65,121.37 L238.59,128.14 L243.54,139.05 L248.49,147.86 L253.43,154.29 L258.38,162.48 L263.32,169.88 L268.27,177.55 L273.22,177.11 L278.16,167.96 L283.11,158.07 L288.05,150.57 L293.00,142.25 L297.95,135.34 L302.89,127.99 L307.84,121.35 L312.78,128.28 L317.73,139.57 L322.68,148.59 L327.62,155.14 L332.57,163.70 L337.51,171.50 L342.46,178.59 L347.41,174.65 L352.35,164.96 L357.30,155.36 L362.24,147.50 L367.19,139.34 L372.14,132.07 L377.08,123.30 L382.03,123.60 L386.97,133.31 L391.92,143.64 L396.87,150.79 L401.81,158.02 L406.76,166.00 L411.70,173.86 L416.65,178.76 L421.60,172.87 L426.54,163.24 L431.49,154.43 L436.43,146.72 L441.38,139.01 L446.33,131.98 L451.27,123.49 L456.22,123.38 L461.16,132.93 L466.11,143.41 L471.06,150.68 L476.00,157.91 L480.95,165.96 L485.89,173.87 L490.84,178.77 L495.79,172.75 L500.73,163.01 L505.68,154.24 L510.62,146.40 L515.57,138.73 L520.52,131.63 L525.46,123.11 L530.41,123.73 L535.35,133.69 L540.30,144.02" fill="none" stroke="#8a7a8a" stroke-width="0.8"/>
<circle cx="45.70" cy="176.58" r="1.6" fill="#c8c060"/>
<circle cx="50.65" cy="176.49" r="1.6" fill="#c8c060"/>
<circle cx="55.59" cy="170.01" r="1.6" fill="#c8c060"/>
<circle cx="60.54" cy="160.87" r="1.6" fill="#c8c060"/>
<circle cx="65.48" cy="151.21" r="1.6" fill="#c8c060"/>
<circle cx="70.43" cy="141.60" r="1.6" fill="#c8c060"/>
<circle cx="75.38" cy="133.01" r="1.6" fill="#c8c060"/>
<circle cx="80.32" cy="125.78" r="1.6" fill="#c8c060"/>
<circle cx="85.27" cy="122.46" r="1.6" fill="#c8c060"/>
<circle cx="90.21" cy="126.57" r="1.6" fill="#c8c060"/>
<circle cx="95.16" cy="135.34" r="1.6" fill="#c8c060"/>
<circle cx="100.11" cy="144.82" r="1.6" fill="#c8c060"/>
<circle cx="105.05" cy="154.06" r="1.6" fill="#c8c060"/>
<circle cx="110.00" cy="163.28" r="1.6" fill="#c8c060"/>
<circle cx="114.94" cy="171.39" r="1.6" fill="#c8c060"/>
<circle cx="119.89" cy="176.84" r="1.6" fill="#c8c060"/>
<circle cx="124.84" cy="176.20" r="1.6" fill="#c8c060"/>
<circle cx="129.78" cy="169.45" r="1.6" fill="#c8c060"/>
<circle cx="134.73" cy="160.27" r="1.6" fill="#c8c060"/>
<circle cx="139.67" cy="150.66" r="1.6" fill="#c8c060"/>
<circle cx="144.62" cy="141.12" r="1.6" fill="#c8c060"/>
<circle cx="149.57" cy="132.65" r="1.6" fill="#c8c060"/>
<circle cx="154.51" cy="125.52" r="1.6" fill="#c8c060"/>
<circle cx="159.46" cy="122.48" r="1.6" fill="#c8c060"/>
<circle cx="164.40" cy="126.88" r="1.6" fill="#c8c060"/>
<circle cx="169.35" cy="135.77" r="1.6" fill="#c8c060"/>
<circle cx="174.30" cy="145.25" r="1.6" fill="#c8c060"/>
<circle cx="179.24" cy="154.52" r="1.6" fill="#c8c060"/>
<circle cx="184.19" cy="163.74" r="1.6" fill="#c8c060"/>
<circle cx="189.13" cy="171.79" r="1.6" fill="#c8c060"/>
<circle cx="194.08" cy="177.02" r="1.6" fill="#c8c060"/>
<circle cx="199.03" cy="175.80" r="1.6" fill="#c8c060"/>
<circle cx="203.97" cy="168.23" r="1.6" fill="#c8c060"/>
<circle cx="208.92" cy="158.06" r="1.6" fill="#c8c060"/>
<circle cx="213.86" cy="147.21" r="1.6" fill="#c8c060"/>
<circle cx="218.81" cy="136.89" r="1.6" fill="#c8c060"/>
<circle cx="223.76" cy="128.70" r="1.6" fill="#c8c060"/>
<circle cx="228.70" cy="123.28" r="1.6" fill="#c8c060"/>
<circle cx="233.65" cy="123.21" r="1.6" fill="#c8c060"/>
<circle cx="238.59" cy="128.75" r="1.6" fill="#c8c060"/>
<circle cx="243.54" cy="137.12" r="1.6" fill="#c8c060"/>
<circle cx="248.49" cy="146.04" r="1.6" fill="#c8c060"/>
<circle cx="253.43" cy="155.07" r="1.6" fill="#c8c060"/>
<circle cx="258.38" cy="164.14" r="1.6" fill="#c8c060"/>
<circle cx="263.32" cy="172.04" r="1.6" fill="#c8c060"/>
<circle cx="268.27" cy="177.09" r="1.6" fill="#c8c060"/>
<circle cx="273.22" cy="175.82" r="1.6" fill="#c8c060"/>
<circle cx="278.16" cy="168.75" r="1.6" fill="#c8c060"/>
<circle cx="283.11" cy="159.54" r="1.6" fill="#c8c060"/>
<circle cx="288.05" cy="149.96" r="1.6" fill="#c8c060"/>
<circle cx="293.00" cy="140.49" r="1.6" fill="#c8c060"/>
<circle cx="297.95" cy="132.16" r="1.6" fill="#c8c060"/>
<circle cx="302.89" cy="125.17" r="1.6" fill="#c8c060"/>
<circle cx="307.84" cy="122.57" r="1.6" fill="#c8c060"/>
<circle cx="312.78" cy="127.61" r="1.6" fill="#c8c060"/>
<circle cx="317.73" cy="136.92" r="1.6" fill="#c8c060"/>
<circle cx="322.68" cy="146.63" r="1.6" fill="#c8c060"/>
<circle cx="327.62" cy="156.19" r="1.6" fill="#c8c060"/>
<circle cx="332.57" cy="165.54" r="1.6" fill="#c8c060"/>
<circle cx="337.51" cy="173.38" r="1.6" fill="#c8c060"/>
<circle cx="342.46" cy="177.39" r="1.6" fill="#c8c060"/>
<circle cx="347.41" cy="174.31" r="1.6" fill="#c8c060"/>
<circle cx="352.35" cy="165.99" r="1.6" fill="#c8c060"/>
<circle cx="357.30" cy="156.25" r="1.6" fill="#c8c060"/>
<circle cx="362.24" cy="146.29" r="1.6" fill="#c8c060"/>
<circle cx="367.19" cy="136.81" r="1.6" fill="#c8c060"/>
<circle cx="372.14" cy="128.75" r="1.6" fill="#c8c060"/>
<circle cx="377.08" cy="123.10" r="1.6" fill="#c8c060"/>
<circle cx="382.03" cy="124.03" r="1.6" fill="#c8c060"/>
<circle cx="386.97" cy="131.49" r="1.6" fill="#c8c060"/>
<circle cx="391.92" cy="140.96" r="1.6" fill="#c8c060"/>
<circle cx="396.87" cy="150.15" r="1.6" fill="#c8c060"/>
<circle cx="401.81" cy="159.40" r="1.6" fill="#c8c060"/>
<circle cx="406.76" cy="168.09" r="1.6" fill="#c8c060"/>
<circle cx="411.70" cy="174.97" r="1.6" fill="#c8c060"/>
<circle cx="416.65" cy="177.38" r="1.6" fill="#c8c060"/>
<circle cx="421.60" cy="173.03" r="1.6" fill="#c8c060"/>
<circle cx="426.54" cy="164.53" r="1.6" fill="#c8c060"/>
<circle cx="431.49" cy="155.10" r="1.6" fill="#c8c060"/>
<circle cx="436.43" cy="145.49" r="1.6" fill="#c8c060"/>
<circle cx="441.38" cy="136.42" r="1.6" fill="#c8c060"/>
<circle cx="446.33" cy="128.71" r="1.6" fill="#c8c060"/>
<circle cx="451.27" cy="123.14" r="1.6" fill="#c8c060"/>
<circle cx="456.22" cy="123.85" r="1.6" fill="#c8c060"/>
<circle cx="461.16" cy="131.20" r="1.6" fill="#c8c060"/>
<circle cx="466.11" cy="140.72" r="1.6" fill="#c8c060"/>
<circle cx="471.06" cy="149.99" r="1.6" fill="#c8c060"/>
<circle cx="476.00" cy="159.30" r="1.6" fill="#c8c060"/>
<circle cx="480.95" cy="168.06" r="1.6" fill="#c8c060"/>
<circle cx="485.89" cy="174.98" r="1.6" fill="#c8c060"/>
<circle cx="490.84" cy="177.36" r="1.6" fill="#c8c060"/>
<circle cx="495.79" cy="172.92" r="1.6" fill="#c8c060"/>
<circle cx="500.73" cy="164.32" r="1.6" fill="#c8c060"/>
<circle cx="505.68" cy="154.82" r="1.6" fill="#c8c060"/>
<circle cx="510.62" cy="145.15" r="1.6" fill="#c8c060"/>
<circle cx="515.57" cy="136.06" r="1.6" fill="#c8c060"/>
<circle cx="520.52" cy="128.35" r="1.6" fill="#c8c060"/>
<circle cx="525.46" cy="122.98" r="1.6" fill="#c8c060"/>
<circle cx="530.41" cy="124.15" r="1.6" fill="#c8c060"/>
<circle cx="535.35" cy="131.79" r="1.6" fill="#c8c060"/>
<circle cx="540.30" cy="141.36" r="1.6" fill="#c8c060"/>
<circle cx="45.70" cy="176.53" r="1.6" fill="#3c3010"/>
<circle cx="50.65" cy="178.09" r="1.6" fill="#3c3010"/>
<circle cx="55.59" cy="169.31" r="1.6" fill="#3c3010"/>
<circle cx="60.54" cy="159.59" r="1.6" fill="#3c3010"/>
<circle cx="65.48" cy="151.56" r="1.6" fill="#3c3010"/>
<circle cx="70.43" cy="143.16" r="1.6" fill="#3c3010"/>
<circle cx="75.38" cy="136.14" r="1.6" fill="#3c3010"/>
<circle cx="80.32" cy="128.99" r="1.6" fill="#3c3010"/>
<circle cx="85.27" cy="121.36" r="1.6" fill="#3c3010"/>
<circle cx="90.21" cy="127.06" r="1.6" fill="#3c3010"/>
<circle cx="95.16" cy="137.97" r="1.6" fill="#3c3010"/>
<circle cx="100.11" cy="146.91" r="1.6" fill="#3c3010"/>
<circle cx="105.05" cy="153.48" r="1.6" fill="#3c3010"/>
<circle cx="110.00" cy="161.72" r="1.6" fill="#3c3010"/>
<circle cx="114.94" cy="169.18" r="1.6" fill="#3c3010"/>
<circle cx="119.89" cy="176.97" r="1.6" fill="#3c3010"/>
<circle cx="124.84" cy="177.69" r="1.6" fill="#3c3010"/>
<circle cx="129.78" cy="168.62" r="1.6" fill="#3c3010"/>
<circle cx="134.73" cy="158.95" r="1.6" fill="#3c3010"/>
<circle cx="139.67" cy="151.05" r="1.6" fill="#3c3010"/>
<circle cx="144.62" cy="142.76" r="1.6" fill="#3c3010"/>
<circle cx="149.57" cy="135.80" r="1.6" fill="#3c3010"/>
<circle cx="154.51" cy="128.64" r="1.6" fill="#3c3010"/>
<circle cx="159.46" cy="121.34" r="1.6" fill="#3c3010"/>
<circle cx="164.40" cy="127.53" r="1.6" fill="#3c3010"/>
<circle cx="169.35" cy="138.41" r="1.6" fill="#3c3010"/>
<circle cx="174.30" cy="147.24" r="1.6" fill="#3c3010"/>
<circle cx="179.24" cy="153.98" r="1.6" fill="#3c3010"/>
<circle cx="184.19" cy="162.13" r="1.6" fill="#3c3010"/>
<circle cx="189.13" cy="169.59" r="1.6" fill="#3c3010"/>
<circle cx="194.08" cy="177.26" r="1.6" fill="#3c3010"/>
<circle cx="199.03" cy="177.29" r="1.6" fill="#3c3010"/>
<circle cx="203.97" cy="168.11" r="1.6" fill="#3c3010"/>
<circle cx="208.92" cy="158.18" r="1.6" fill="#3c3010"/>
<circle cx="213.86" cy="150.60" r="1.6" fill="#3c3010"/>
<circle cx="218.81" cy="142.23" r="1.6" fill="#3c3010"/>
<circle cx="223.76" cy="135.28" r="1.6" fill="#3c3010"/>
<circle cx="228.70" cy="127.81" r="1.6" fill="#3c3010"/>
<circle cx="233.65" cy="121.37" r="1.6" fill="#3c3010"/>
<circle cx="238.59" cy="128.14" r="1.6" fill="#3c3010"/>
<circle cx="243.54" cy="139.05" r="1.6" fill="#3c3010"/>
<circle cx="248.49" cy="147.86" r="1.6" fill="#3c3010"/>
<circle cx="253.43" cy="154.29" r="1.6" fill="#3c3010"/>
<circle cx="258.38" cy="162.48" r="1.6" fill="#3c3010"/>
<circle cx="263.32" cy="169.88" r="1.6" fill="#3c3010"/>
<circle cx="268.27" cy="177.55" r="1.6" fill="#3c3010"/>
<circle cx="273.22" cy="177.11" r="1.6" fill="#3c3010"/>
<circle cx="278.16" cy="167.96" r="1.6" fill="#3c3010"/>
<circle cx="283.11" cy="158.07" r="1.6" fill="#3c3010"/>
<circle cx="288.05" cy="150.57" r="1.6" fill="#3c3010"/>
<circle cx="293.00" cy="142.25" r="1.6" fill="#3c3010"/>
<circle cx="297.95" cy="135.34" r="1.6" fill="#3c3010"/>
<circle cx="302.89" cy="127.99" r="1.6" fill="#3c3010"/>
<circle cx="307.84" cy="121.35" r="1.6" fill="#3c3010"/>
<circle cx="312.78" cy="128.28" r="1.6" fill="#3c3010"/>
<circle cx="317.73" cy="139.57" r="1.6" fill="#3c3010"/>
<circle cx="322.68" cy="148.59" r="1.6" fill="#3c3010"/>
<circle cx="327.62" cy="155.14" r="1.6" fill="#3c3010"/>
<circle cx="332.57" cy="163.70" r="1.6" fill="#3c3010"/>
<circle cx="337.51" cy="171.50" r="1.6" fill="#3c3010"/>
<circle cx="342.46" cy="178.59" r="1.6" fill="#3c3010"/>
<circle cx="347.41" cy="174.65" r="1.6" fill="#3c3010"/>
<circle cx="352.35" cy="164.96" r="1.6" fill="#3c3010"/>
<circle cx="357.30" cy="155.36" r="1.6" fill="#3c3010"/>
<circle cx="362.24" cy="147.50" r="1.6" fill="#3c3010"/>
<circle cx="367.19" cy="139.34" r="1.6" fill="#3c3010"/>
<circle cx="372.14" cy="132.07" r="1.6" fill="#3c3010"/>
<circle cx="377.08" cy="123.30" r="1.6" fill="#3c3010"/>
<circle cx="382.03" cy="123.60" r="1.6" fill="#3c3010"/>
<circle cx="386.97" cy="133.31" r="1.6" fill="#3c3010"/>
<circle cx="391.92" cy="143.64" r="1.6" fill="#3c3010"/>
<circle cx="396.87" cy="150.79" r="1.6" fill="#3c3010"/>
<circle cx="401.81" cy="158.02" r="1.6" fill="#3c3010"/>
<circle cx="406.76" cy="166.00" r="1.6" fill="#3c3010"/>
<circle cx="411.70" cy="173.86" r="1.6" fill="#3c3010"/>
<circle cx="416.65" cy="178.76" r="1.6" fill="#3c3010"/>
<circle cx="421.60" cy="172.87" r="1.6" fill="#3c3010"/>
<circle cx="426.54" cy="163.24" r="1.6" fill="#3c3010"/>
<circle cx="431.49" cy="154.43" r="1.6" fill="#3c3010"/>
<circle cx="436.43" cy="146.72" r="1.6" fill="#3c3010"/>
<circle cx="441.38" cy="139.01" r="1.6" fill="#3c3010"/>
<circle cx="446.33" cy="131.98" r="1.6" fill="#3c3010"/>
<circle cx="451.27" cy="123.49" r="1.6" fill="#3c3010"/>
<circle cx="456.22" cy="123.38" r="1.6" fill="#3c3010"/>
<circle cx="461.16" cy="132.93" r="1.6" fill="#3c3010"/>
<circle cx="466.11" cy="143.41" r="1.6" fill="#3c3010"/>
<circle cx="471.06" cy="150.68" r="1.6" fill="#3c3010"/>
<circle cx="476.00" cy="157.91" r="1.6" fill="#3c3010"/>
<circle cx="480.95" cy="165.96" r="1.6" fill="#3c3010"/>
<circle cx="485.89" cy="173.87" r="1.6" fill="#3c3010"/>
<circle cx="490.84" cy="178.77" r="1.6" fill="#3c3010"/>
<circle cx="495.79" cy="172.75" r="1.6" fill="#3c3010"/>
<circle cx="500.73" cy="163.01" r="1.6" fill="#3c3010"/>
<circle cx="505.68" cy="154.24" r="1.6" fill="#3c3010"/>
<circle cx="510.62" cy="146.40" r="1.6" fill="#3c3010"/>
<circle cx="515.57" cy="138.73" r="1.6" fill="#3c3010"/>
<circle cx="520.52" cy="131.63" r="1.6" fill="#3c3010"/>
<circle cx="525.46" cy="123.11" r="1.6" fill="#3c3010"/>
<circle cx="530.41" cy="123.73" r="1.6" fill="#3c3010"/>
<circle cx="535.35" cy="133.69" r="1.6" fill="#3c3010"/>
<circle cx="540.30" cy="144.02" r="1.6" fill="#3c3010"/>
<path d="M45.70,267.30 L95.16,229.20 L144.62,234.40 L194.08,267.80 L243.54,227.20 L293.00,234.00 L342.46,268.50 L391.92,231.30 L441.38,230.70 L490.84,268.50 L540.30,236.60" fill="none" stroke="#b0b0f0" stroke-width="1.3"/>
<path d="M45.70,265.10 L95.16,227.20 L144.62,229.10 L194.08,267.80 L243.54,229.70 L293.00,228.40 L342.46,267.80 L391.92,231.30 L441.38,227.00 L490.84,267.00 L540.30,233.80" fill="none" stroke="#9a9a90" stroke-width="1"/>
<circle cx="45.70" cy="267.30" r="1.6" fill="#c8c060"/>
<circle cx="95.16" cy="229.20" r="1.6" fill="#c8c060"/>
<circle cx="144.62" cy="234.40" r="1.6" fill="#c8c060"/>
<circle cx="194.08" cy="267.80" r="1.6" fill="#c8c060"/>
<circle cx="243.54" cy="227.20" r="1.6" fill="#c8c060"/>
<circle cx="293.00" cy="234.00" r="1.6" fill="#c8c060"/>
<circle cx="342.46" cy="268.50" r="1.6" fill="#c8c060"/>
<circle cx="391.92" cy="231.30" r="1.6" fill="#c8c060"/>
<circle cx="441.38" cy="230.70" r="1.6" fill="#c8c060"/>
<circle cx="490.84" cy="268.50" r="1.6" fill="#c8c060"/>
<circle cx="540.30" cy="236.60" r="1.6" fill="#c8c060"/>
<circle cx="45.70" cy="265.10" r="1.6" fill="#3c3010"/>
<circle cx="95.16" cy="227.20" r="1.6" fill="#3c3010"/>
<circle cx="144.62" cy="229.10" r="1.6" fill="#3c3010"/>
<circle cx="194.08" cy="267.80" r="1.6" fill="#3c3010"/>
<circle cx="243.54" cy="229.70" r="1.6" fill="#3c3010"/>
<circle cx="293.00" cy="228.40" r="1.6" fill="#3c3010"/>
<circle cx="342.46" cy="267.80" r="1.6" fill="#3c3010"/>
<circle cx="391.92" cy="231.30" r="1.6" fill="#3c3010"/>
<circle cx="441.38" cy="227.00" r="1.6" fill="#3c3010"/>
<circle cx="490.84" cy="267.00" r="1.6" fill="#3c3010"/>
<circle cx="540.30" cy="233.80" r="1.6" fill="#3c3010"/>
<rect x="45.7" y="11.1" width="494.6000000000001" height="87.5" fill="none" stroke="#606060" stroke-width="1"/>
<line x1="95.16" y1="98.6" x2="95.16" y2="93.6" stroke="#606060"/>
<line x1="95.16" y1="11.1" x2="95.16" y2="16.1" stroke="#606060"/>
<line x1="144.62" y1="98.6" x2="144.62" y2="93.6" stroke="#606060"/>
<line x1="144.62" y1="11.1" x2="144.62" y2="16.1" stroke="#606060"/>
<line x1="194.07999999999998" y1="98.6" x2="194.07999999999998" y2="93.6" stroke="#606060"/>
<line x1="194.07999999999998" y1="11.1" x2="194.07999999999998" y2="16.1" stroke="#606060"/>
<line x1="243.54000000000002" y1="98.6" x2="243.54000000000002" y2="93.6" stroke="#606060"/>
<line x1="243.54000000000002" y1="11.1" x2="243.54000000000002" y2="16.1" stroke="#606060"/>
<line x1="293.0" y1="98.6" x2="293.0" y2="93.6" stroke="#606060"/>
<line x1="293.0" y1="11.1" x2="293.0" y2="16.1" stroke="#606060"/>
<line x1="342.46" y1="98.6" x2="342.46" y2="93.6" stroke="#606060"/>
<line x1="342.46" y1="11.1" x2="342.46" y2="16.1" stroke="#606060"/>
<line x1="391.92" y1="98.6" x2="391.92" y2="93.6" stroke="#606060"/>
<line x1="391.92" y1="11.1" x2="391.92" y2="16.1" stroke="#606060"/>
<line x1="441.38" y1="98.6" x2="441.38" y2="93.6" stroke="#606060"/>
<line x1="441.38" y1="11.1" x2="441.38" y2="16.1" stroke="#606060"/>
<line x1="490.84" y1="98.6" x2="490.84" y2="93.6" stroke="#606060"/>
<line x1="490.84" y1="11.1" x2="490.84" y2="16.1" stroke="#606060"/>
<line x1="45.7" y1="64.95" x2="50.7" y2="64.95" stroke="#606060"/>
<line x1="540.3000000000001" y1="64.95" x2="535.3000000000001" y2="64.95" stroke="#606060"/>
<line x1="45.7" y1="31.29" x2="50.7" y2="31.29" stroke="#606060"/>
<line x1="540.3000000000001" y1="31.29" x2="535.3000000000001" y2="31.29" stroke="#606060"/>
<rect x="45.7" y="103.0" width="494.6000000000001" height="88.30000000000001" fill="none" stroke="#606060" stroke-width="1"/>
<line x1="95.16" y1="191.3" x2="95.16" y2="186.3" stroke="#606060"/>
<line x1="95.16" y1="103.0" x2="95.16" y2="108.0" stroke="#606060"/>
<line x1="144.62" y1="191.3" x2="144.62" y2="186.3" stroke="#606060"/>
<line x1="144.62" y1="103.0" x2="144.62" y2="108.0" stroke="#606060"/>
<line x1="194.07999999999998" y1="191.3" x2="194.07999999999998" y2="186.3" stroke="#606060"/>
<line x1="194.07999999999998" y1="103.0" x2="194.07999999999998" y2="108.0" stroke="#606060"/>
<line x1="243.54000000000002" y1="191.3" x2="243.54000000000002" y2="186.3" stroke="#606060"/>
<line x1="243.54000000000002" y1="103.0" x2="243.54000000000002" y2="108.0" stroke="#606060"/>
<line x1="293.0" y1="191.3" x2="293.0" y2="186.3" stroke="#606060"/>
<line x1="293.0" y1="103.0" x2="293.0" y2="108.0" stroke="#606060"/>
<line x1="342.46" y1="191.3" x2="342.46" y2="186.3" stroke="#606060"/>
<line x1="342.46" y1="103.0" x2="342.46" y2="108.0" stroke="#606060"/>
<line x1="391.92" y1="191.3" x2="391.92" y2="186.3" stroke="#606060"/>
<line x1="391.92" y1="103.0" x2="391.92" y2="108.0" stroke="#606060"/>
<line x1="441.38" y1="191.3" x2="441.38" y2="186.3" stroke="#606060"/>
<line x1="441.38" y1="103.0" x2="441.38" y2="108.0" stroke="#606060"/>
<line x1="490.84" y1="191.3" x2="490.84" y2="186.3" stroke="#606060"/>
<line x1="490.84" y1="103.0" x2="490.84" y2="108.0" stroke="#606060"/>
<line x1="45.7" y1="157.34" x2="50.7" y2="157.34" stroke="#606060"/>
<line x1="540.3000000000001" y1="157.34" x2="535.3000000000001" y2="157.34" stroke="#606060"/>
<line x1="45.7" y1="123.38" x2="50.7" y2="123.38" stroke="#606060"/>
<line x1="540.3000000000001" y1="123.38" x2="535.3000000000001" y2="123.38" stroke="#606060"/>
<rect x="45.7" y="196.1" width="494.6000000000001" height="88.1" fill="none" stroke="#606060" stroke-width="1"/>
<line x1="95.16" y1="284.2" x2="95.16" y2="279.2" stroke="#606060"/>
<line x1="95.16" y1="196.1" x2="95.16" y2="201.1" stroke="#606060"/>
<line x1="144.62" y1="284.2" x2="144.62" y2="279.2" stroke="#606060"/>
<line x1="144.62" y1="196.1" x2="144.62" y2="201.1" stroke="#606060"/>
<line x1="194.07999999999998" y1="284.2" x2="194.07999999999998" y2="279.2" stroke="#606060"/>
<line x1="194.07999999999998" y1="196.1" x2="194.07999999999998" y2="201.1" stroke="#606060"/>
<line x1="243.54000000000002" y1="284.2" x2="243.54000000000002" y2="279.2" stroke="#606060"/>
<line x1="243.54000000000002" y1="196.1" x2="243.54000000000002" y2="201.1" stroke="#606060"/>
<line x1="293.0" y1="284.2" x2="293.0" y2="279.2" stroke="#606060"/>
<line x1="293.0" y1="196.1" x2="293.0" y2="201.1" stroke="#606060"/>
<line x1="342.46" y1="284.2" x2="342.46" y2="279.2" stroke="#606060"/>
<line x1="342.46" y1="196.1" x2="342.46" y2="201.1" stroke="#606060"/>
<line x1="391.92" y1="284.2" x2="391.92" y2="279.2" stroke="#606060"/>
<line x1="391.92" y1="196.1" x2="391.92" y2="201.1" stroke="#606060"/>
<line x1="441.38" y1="284.2" x2="441.38" y2="279.2" stroke="#606060"/>
<line x1="441.38" y1="196.1" x2="441.38" y2="201.1" stroke="#606060"/>
<line x1="490.84" y1="284.2" x2="490.84" y2="279.2" stroke="#606060"/>
<line x1="490.84" y1="196.1" x2="490.84" y2="201.1" stroke="#606060"/>
<line x1="45.7" y1="250.32" x2="50.7" y2="250.32" stroke="#606060"/>
<line x1="540.3000000000001" y1="250.32" x2="535.3000000000001" y2="250.32" stroke="#606060"/>
<line x1="45.7" y1="216.43" x2="50.7" y2="216.43" stroke="#606060"/>
<line x1="540.3000000000001" y1="216.43" x2="535.3000000000001" y2="216.43" stroke="#606060"/>
<text transform="translate(42.30,35.89) scale(0.93,1)" font-family="Liberation Serif, serif" stroke="#333" stroke-width="0.22" font-size="12.2" fill="#262626" text-anchor="end">0.05</text>
<text transform="translate(42.30,69.55) scale(0.93,1)" font-family="Liberation Serif, serif" stroke="#333" stroke-width="0.22" font-size="12.2" fill="#262626" text-anchor="end">0</text>
<text transform="translate(42.30,103.20) scale(0.93,1)" font-family="Liberation Serif, serif" stroke="#333" stroke-width="0.22" font-size="12.2" fill="#262626" text-anchor="end">-0.05</text>
<text transform="translate(42.30,127.98) scale(0.93,1)" font-family="Liberation Serif, serif" stroke="#333" stroke-width="0.22" font-size="12.2" fill="#262626" text-anchor="end">0.05</text>
<text transform="translate(42.30,161.94) scale(0.93,1)" font-family="Liberation Serif, serif" stroke="#333" stroke-width="0.22" font-size="12.2" fill="#262626" text-anchor="end">0</text>
<text transform="translate(42.30,195.90) scale(0.93,1)" font-family="Liberation Serif, serif" stroke="#333" stroke-width="0.22" font-size="12.2" fill="#262626" text-anchor="end">-0.05</text>
<text transform="translate(42.30,221.03) scale(0.93,1)" font-family="Liberation Serif, serif" stroke="#333" stroke-width="0.22" font-size="12.2" fill="#262626" text-anchor="end">0.05</text>
<text transform="translate(42.30,254.92) scale(0.93,1)" font-family="Liberation Serif, serif" stroke="#333" stroke-width="0.22" font-size="12.2" fill="#262626" text-anchor="end">0</text>
<text transform="translate(42.30,288.80) scale(0.93,1)" font-family="Liberation Serif, serif" stroke="#333" stroke-width="0.22" font-size="12.2" fill="#262626" text-anchor="end">-0.05</text>
<text transform="translate(45.70,298.40) scale(0.9,1)" font-family="Liberation Serif, serif" stroke="#333" stroke-width="0.22" font-size="12.4" fill="#262626" text-anchor="middle">300</text>
<text transform="translate(95.16,298.40) scale(0.9,1)" font-family="Liberation Serif, serif" stroke="#333" stroke-width="0.22" font-size="12.4" fill="#262626" text-anchor="middle">301</text>
<text transform="translate(144.62,298.40) scale(0.9,1)" font-family="Liberation Serif, serif" stroke="#333" stroke-width="0.22" font-size="12.4" fill="#262626" text-anchor="middle">302</text>
<text transform="translate(194.08,298.40) scale(0.9,1)" font-family="Liberation Serif, serif" stroke="#333" stroke-width="0.22" font-size="12.4" fill="#262626" text-anchor="middle">303</text>
<text transform="translate(243.54,298.40) scale(0.9,1)" font-family="Liberation Serif, serif" stroke="#333" stroke-width="0.22" font-size="12.4" fill="#262626" text-anchor="middle">304</text>
<text transform="translate(293.00,298.40) scale(0.9,1)" font-family="Liberation Serif, serif" stroke="#333" stroke-width="0.22" font-size="12.4" fill="#262626" text-anchor="middle">305</text>
<text transform="translate(342.46,298.40) scale(0.9,1)" font-family="Liberation Serif, serif" stroke="#333" stroke-width="0.22" font-size="12.4" fill="#262626" text-anchor="middle">306</text>
<text transform="translate(391.92,298.40) scale(0.9,1)" font-family="Liberation Serif, serif" stroke="#333" stroke-width="0.22" font-size="12.4" fill="#262626" text-anchor="middle">307</text>
<text transform="translate(441.38,298.40) scale(0.9,1)" font-family="Liberation Serif, serif" stroke="#333" stroke-width="0.22" font-size="12.4" fill="#262626" text-anchor="middle">308</text>
<text transform="translate(490.84,298.40) scale(0.9,1)" font-family="Liberation Serif, serif" stroke="#333" stroke-width="0.22" font-size="12.4" fill="#262626" text-anchor="middle">309</text>
<text transform="translate(540.30,298.40) scale(0.9,1)" font-family="Liberation Serif, serif" stroke="#333" stroke-width="0.22" font-size="12.4" fill="#262626" text-anchor="middle">310</text>
<text transform="translate(293.70,312.90) scale(0.975,1)" font-family="Liberation Serif, serif" stroke="#333" stroke-width="0.22" font-size="13.4" fill="#262626" text-anchor="middle">Time (s)</text>
<text transform="translate(14.3,146.8) rotate(-90)" font-family="Liberation Serif, serif" stroke="#333" stroke-width="0.22" font-size="12.75" fill="#262626" text-anchor="middle">Displacement (m)</text>
<rect x="65.5" y="80.3" width="36" height="12.3" fill="#fff"/>
<text transform="translate(66.80,89.80) scale(0.925,1)" font-family="Liberation Serif, serif" stroke="#333" stroke-width="0.22" font-size="12.1" fill="#262626">100-Hz</text>
<text transform="translate(67.60,185.80) scale(0.925,1)" font-family="Liberation Serif, serif" stroke="#333" stroke-width="0.22" font-size="11.7" fill="#262626">10-Hz</text>
<text transform="translate(69.30,277.90) scale(0.925,1)" font-family="Liberation Serif, serif" stroke="#333" stroke-width="0.22" font-size="12.0" fill="#262626">1-Hz</text>
<rect x="452.9" y="14.3" width="80.3" height="11.3" fill="#fff" stroke="#8a8a8a" stroke-width="1"/>
<line x1="455" y1="20.0" x2="467" y2="20.0" stroke="#a8a0e0" stroke-width="1"/>
<circle cx="460.7" cy="20.0" r="1.6" fill="#c8c060"/>
<line x1="491" y1="20.0" x2="504" y2="20.0" stroke="#705048" stroke-width="1"/>
<circle cx="497.5" cy="20.0" r="1.6" fill="#3c3010"/>
<text transform="translate(468.90,23.90) scale(0.95,1)" font-family="Liberation Serif, serif" stroke="#333" stroke-width="0.22" font-size="10.8" fill="#262626">LDT</text>
<text transform="translate(505.60,23.90) scale(0.95,1)" font-family="Liberation Serif, serif" stroke="#333" stroke-width="0.22" font-size="10.8" fill="#262626">GNSS</text>
</svg>
</body></html>
